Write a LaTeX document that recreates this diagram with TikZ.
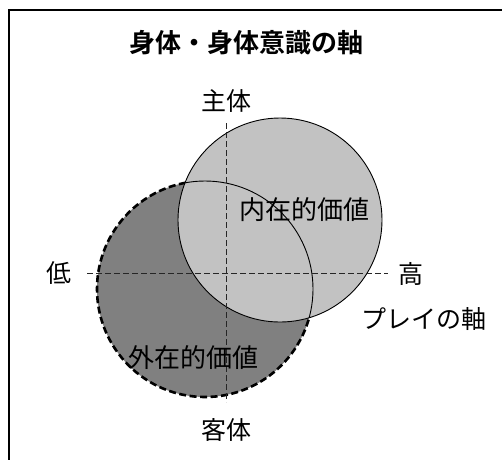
\documentclass[tikz,border=0pt]{standalone}
\usepackage{fontspec}
\newfontfamily\jp{Noto Sans CJK JP}
\newfontfamily\jpb{Noto Sans CJK JP Bold}
\definecolor{darkg}{gray}{0.50}
\definecolor{lightg}{gray}{0.76}
\begin{document}
\begin{tikzpicture}[x=1pt,y=-1pt,
  lbl/.style={font=\jp\fontsize{25}{28}\selectfont, inner sep=0pt},
  axisline/.style={dash pattern=on 6pt off 3pt, line width=0.8pt, black!85},
  val/.style={font=\jp\fontsize{26}{28}\selectfont, inner sep=0pt}]
\useasboundingbox (0,0) rectangle (502,459);
% frame (only top and left visible)
\draw[line width=1.5pt] (9,470) -- (9,10) -- (520,10);
% title
\node[font=\jpb\fontsize{26}{29}\selectfont, inner sep=0pt] (title) at (246,43) {身体・身体意識の軸};
% circle centres
\coordinate (D) at (205,289);
\coordinate (L) at (280,220);
% fills
\fill[darkg] (D) circle[radius=108pt];
\fill[lightg] (L) circle[radius=102pt];
% inner (solid) part of dark circle outline
\begin{scope}
  \clip (L) circle[radius=102pt];
  \draw[line width=0.9pt] (D) circle[radius=108pt];
\end{scope}
% outer (dashed) part of dark circle outline
\begin{scope}[even odd rule]
  \clip (-10,-10) rectangle (520,470) (L) circle[radius=102pt];
  \draw[line width=2.6pt, dash pattern=on 7pt off 3.5pt] (D) circle[radius=108pt];
\end{scope}
% light circle outline
\draw[line width=0.9pt] (L) circle[radius=102pt];
% axes
\coordinate (vtop) at (226,123);
\coordinate (vbot) at (226,402);
\coordinate (hl) at (87,273);
\coordinate (hr) at (388,273);
\draw[axisline] (vtop) -- (vbot);
\draw[axisline] (hl) -- (hr);
% labels
\node[lbl] (shutai) at (226,101) {主体};
\node[lbl] (kyakutai) at (226,430) {客体};
\node[lbl] (low) at (59,273) {低};
\node[lbl] (high) at (411,274) {高};
\node[lbl] (play) at (424,319) {プレイの軸};
\node[val] (naizai) at (304,210) {内在的価値};
\node[val] (gaizai) at (193,358) {外在的価値};
\end{tikzpicture}
\end{document}
